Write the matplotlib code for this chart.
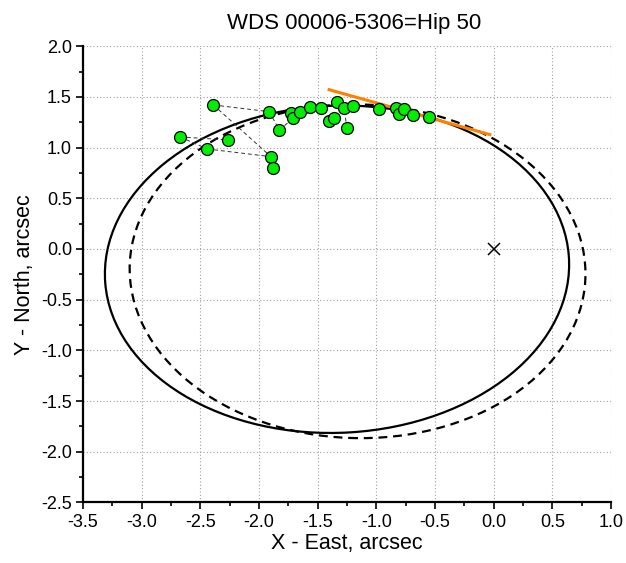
import matplotlib
matplotlib.use("Agg")
import matplotlib.pyplot as plt
from matplotlib.patches import Ellipse
from matplotlib.ticker import MultipleLocator

plt.rcParams['font.family'] = ['Liberation Sans', 'DejaVu Sans']

title = "WDS 00006-5306=Hip 50"
xlabel = "X - East, arcsec"
ylabel = "Y - North, arcsec"

# observations (arcsec)
x_obs = [-2.389, -1.913, -1.827, -2.673, -2.260, -2.440, -1.898, -1.879,
         -1.728, -1.708, -1.651, -1.565, -1.471, -1.406, -1.358, -1.338,
         -1.272, -1.253, -1.202, -0.974, -0.831, -0.809, -0.766, -0.689, -0.552]
y_obs = [1.420, 1.354, 1.174, 1.105, 1.075, 0.986, 0.910, 0.796,
         1.338, 1.289, 1.354, 1.397, 1.388, 1.262, 1.289, 1.447,
         1.393, 1.190, 1.413, 1.381, 1.387, 1.331, 1.381, 1.321, 1.299]

# dashed connector pairs (indices into observations)
links = [(0, 1), (0, 6), (3, 4), (3, 5), (5, 6), (1, 2), (9, 12), (17, 16), (2, 9)]

# orbit ellipses: center x, center y, width, height, angle
orbit_new = (-1.335, -0.200, 3.96, 3.225, 4.0)
orbit_old = (-1.160, -0.220, 3.886, 3.29, -2.5)

# orange linear fit segment
fit_x = [-1.415, -0.02]
fit_y = [1.575, 1.124]

# primary star
prim_x = [0.0]
prim_y = [0.0]

fig = plt.figure(figsize=(6.26, 5.63), dpi=100)
ax = fig.add_axes([0.1326, 0.1075, 0.8434, 0.8105])

ax.set_xlim(-3.5, 1.0)
ax.set_ylim(-2.5, 2.0)

ax.grid(True, which='major', linestyle=(0, (1, 2)), color='#a0a0a0', linewidth=0.8)
ax.set_axisbelow(True)

cx, cy, w, h, a = orbit_new
ax.add_patch(Ellipse((cx, cy), w, h, angle=a, fill=False, edgecolor='black',
                     linewidth=1.6, zorder=2))
cx, cy, w, h, a = orbit_old
ax.add_patch(Ellipse((cx, cy), w, h, angle=a, fill=False, edgecolor='black',
                     linewidth=1.6, linestyle=(0, (4, 2.6)), zorder=2))

for i, j in links:
    ax.plot([x_obs[i], x_obs[j]], [y_obs[i], y_obs[j]], linestyle=(0, (4, 3)),
            color='#333333', linewidth=0.7, zorder=3)

ax.plot(fit_x, fit_y, color='#ff8000', linewidth=2.2, solid_capstyle='butt', zorder=4)

ax.plot(x_obs, y_obs, linestyle='none', marker='o', markersize=8.6,
        markerfacecolor='#00ee00', markeredgecolor='black', markeredgewidth=0.9, zorder=5)

ax.plot(prim_x, prim_y, linestyle='none', marker='x', markersize=8.5,
        color='black', markeredgewidth=1.1, zorder=5)

ax.xaxis.set_major_locator(MultipleLocator(0.5))
ax.xaxis.set_minor_locator(MultipleLocator(0.25))
ax.yaxis.set_major_locator(MultipleLocator(0.5))
ax.yaxis.set_minor_locator(MultipleLocator(0.25))
ax.xaxis.set_major_formatter(plt.FuncFormatter(lambda v, p: f"{v:.1f}"))
ax.yaxis.set_major_formatter(plt.FuncFormatter(lambda v, p: f"{v:.1f}"))

for s in ['top', 'right']:
    ax.spines[s].set_visible(False)
for s in ['left', 'bottom']:
    ax.spines[s].set_linewidth(1.6)

ax.tick_params(which='major', direction='out', length=5, width=1.2, labelsize=13, pad=3)
ax.tick_params(which='minor', direction='out', length=3, width=1.2)

ax.set_xlabel(xlabel, fontsize=15.5, labelpad=2)
ax.set_ylabel(ylabel, fontsize=15.5, labelpad=4)
ax.set_title(title, fontsize=16, pad=12, x=0.513)

fig.savefig("out.png", dpi=100)
